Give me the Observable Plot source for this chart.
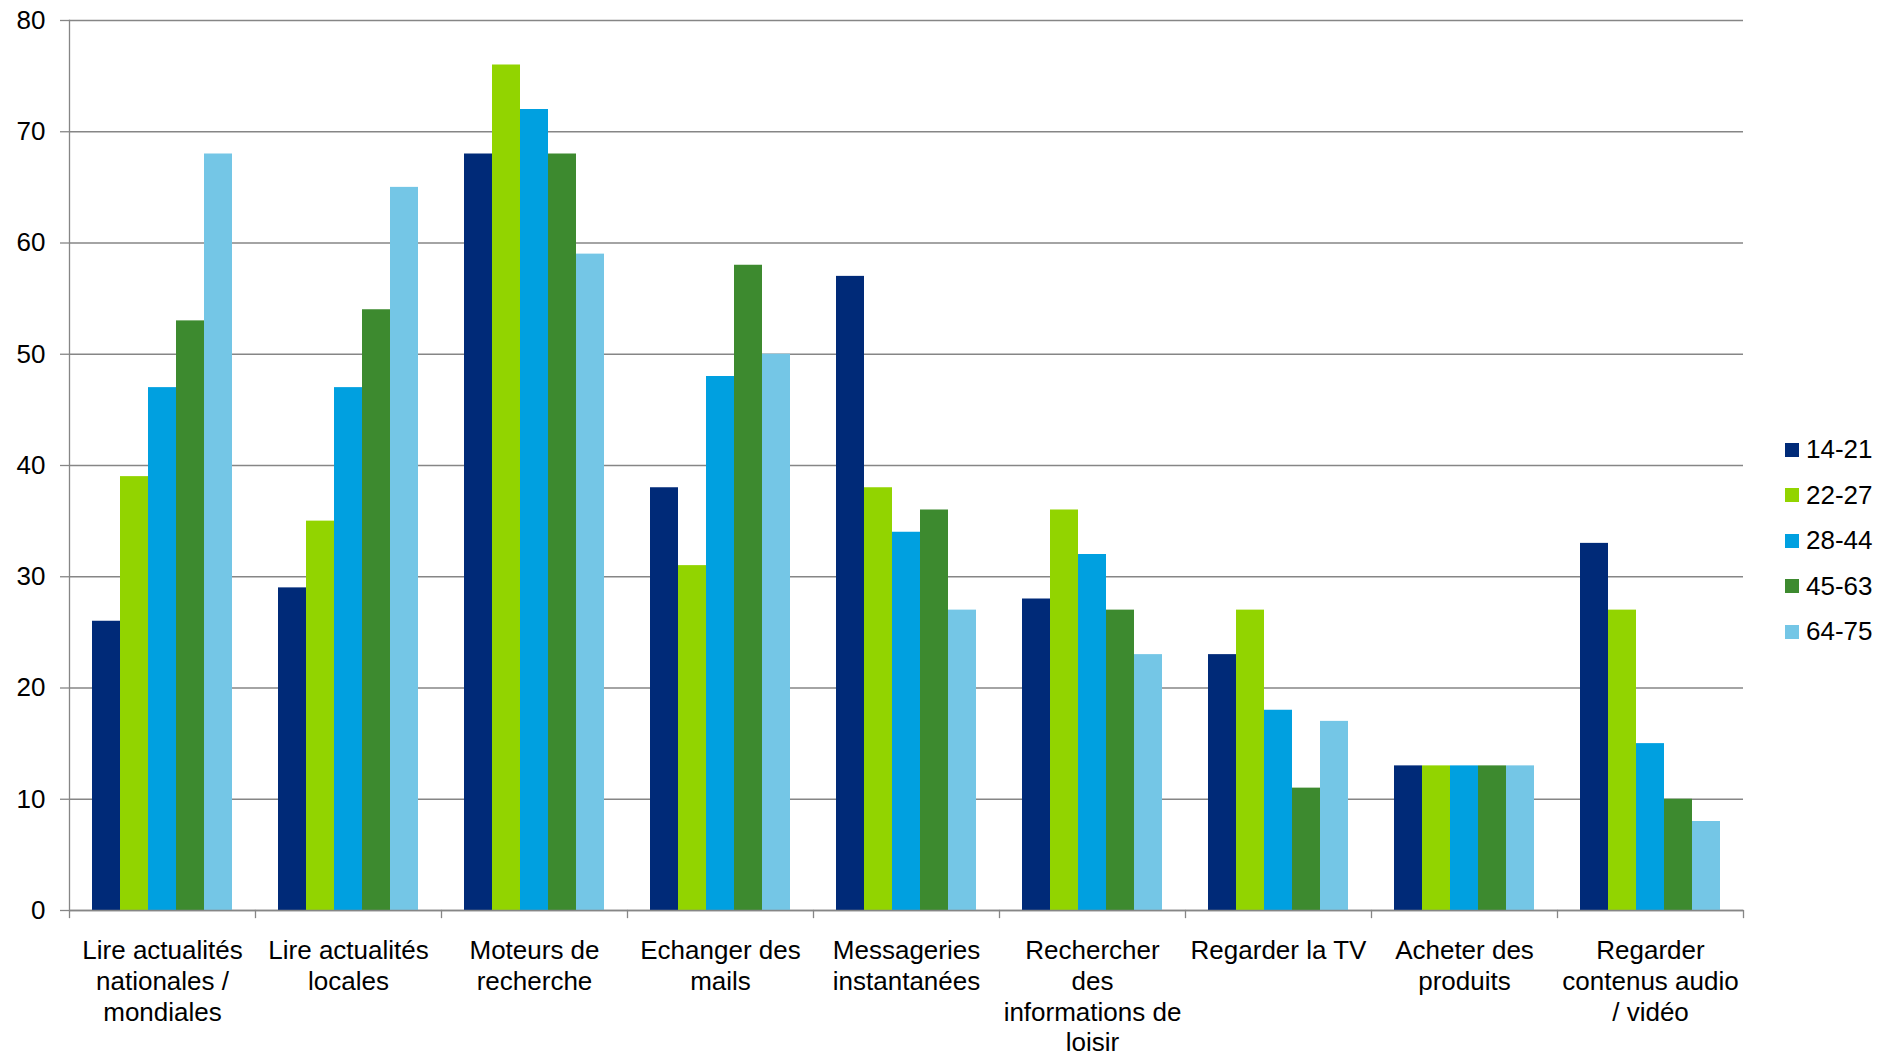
<!DOCTYPE html>
<html>
<head>
<meta charset="utf-8">
<script src="https://cdn.jsdelivr.net/npm/d3@7"></script>
<script src="https://cdn.jsdelivr.net/npm/@observablehq/plot@0.6"></script>
<style>
  body { margin: 0; background: #fff; }
  #wrap { position: relative; width: 1892px; height: 1056px; font-family: "Liberation Sans", Arial, sans-serif; }
  #legend { position: absolute; left: 1785px; top: 427px; }
  #legend .row { display: flex; align-items: center; height: 45.5px; font-size: 26px; color: #000; }
  #legend .sw { width: 14px; height: 14px; margin-right: 7px; flex: none; }
</style>
</head>
<body>
<div id="wrap"></div>
<script>
// Activities (x categories) and their wrapped axis labels
const activities = [
  "Lire actualités nationales / mondiales",
  "Lire actualités locales",
  "Moteurs de recherche",
  "Echanger des mails",
  "Messageries instantanées",
  "Rechercher des informations de loisir",
  "Regarder la TV",
  "Acheter des produits",
  "Regarder contenus audio / vidéo"
];
const activityLabels = [
  "Lire actualités\nnationales /\nmondiales",
  "Lire actualités\nlocales",
  "Moteurs de\nrecherche",
  "Echanger des\nmails",
  "Messageries\ninstantanées",
  "Rechercher\ndes\ninformations de\nloisir",
  "Regarder la TV",
  "Acheter des\nproduits",
  "Regarder\ncontenus audio\n/ vidéo"
];

// Age groups (series) and their colours
const ageGroups = ["14-21", "22-27", "28-44", "45-63", "64-75"];
const ageColors = ["#002a78", "#92d400", "#00a0e0", "#3d8a2f", "#74c6e6"];

// Values per age group, one entry per activity
const age14_21 = [26, 29, 68, 38, 57, 28, 23, 13, 33];
const age22_27 = [39, 35, 76, 31, 38, 36, 27, 13, 27];
const age28_44 = [47, 47, 72, 48, 34, 32, 18, 13, 15];
const age45_63 = [53, 54, 68, 58, 36, 27, 11, 13, 10];
const age64_75 = [68, 65, 59, 50, 27, 23, 17, 13, 8];

const yTicks = [0, 10, 20, 30, 40, 50, 60, 70, 80];

const seriesValues = [age14_21, age22_27, age28_44, age45_63, age64_75];
const rows = activities.flatMap((a, i) =>
  ageGroups.map((g, j) => ({activity: a, age: g, value: seriesValues[j][i]}))
);
const labelOf = new Map(activities.map((a, i) => [a, activityLabels[i]]));

const axisGray = "#868686";
const plotHeight = 1056, mTop = 20, mBottom = 146;
const frameH = plotHeight - mTop - mBottom;

const chart = Plot.plot({
  width: 1892,
  height: plotHeight,
  marginTop: mTop,
  marginBottom: mBottom,
  marginLeft: 67,
  marginRight: 148,
  style: {fontFamily: "'Liberation Sans', Arial, sans-serif", fontSize: "26px", color: "#000", background: "#fff"},
  fx: {domain: activities, padding: 0, label: null, axis: null},
  x: {domain: ageGroups, paddingInner: 0, paddingOuter: 0.745, axis: null},
  y: {domain: [0, 80], label: null, axis: null},
  color: {domain: ageGroups, range: ageColors},
  marks: [
    Plot.gridY(yTicks, {stroke: axisGray, strokeOpacity: 1, strokeWidth: 1.3}),
    Plot.barY(rows, {fx: "activity", x: "age", y: "value", fill: "age"}),
    Plot.ruleY([0], {stroke: axisGray, strokeWidth: 1.3}),
    // vertical value axis line
    Plot.frame({anchor: "left", facetAnchor: "left", stroke: axisGray, strokeWidth: 1.3}),
    // category boundary ticks below the baseline
    Plot.frame({anchor: "left", insetTop: frameH, insetBottom: -7, stroke: axisGray, strokeWidth: 1.3}),
    Plot.frame({anchor: "right", facetAnchor: "right", insetTop: frameH, insetBottom: -7, stroke: axisGray, strokeWidth: 1.3}),
    Plot.axisY({ticks: yTicks, tickSize: 9, tickPadding: 15, stroke: axisGray, strokeWidth: 1.3, fill: "#000", fontSize: 26, label: null}),
    Plot.axisFx({anchor: "bottom", tickSize: 0, tickPadding: 27, fontSize: 26, lineHeight: 1.18, fill: "#000",
      tickFormat: (d) => labelOf.get(d), label: null})
  ]
});

const wrap = document.getElementById("wrap");
wrap.appendChild(chart);

// Legend to the right of the plot
const legend = document.createElement("div");
legend.id = "legend";
ageGroups.forEach((g, i) => {
  const row = document.createElement("div");
  row.className = "row";
  const sw = document.createElement("span");
  sw.className = "sw";
  sw.style.background = ageColors[i];
  const t = document.createElement("span");
  t.textContent = g;
  row.appendChild(sw);
  row.appendChild(t);
  legend.appendChild(row);
});
wrap.appendChild(legend);
</script>
</body>
</html>
